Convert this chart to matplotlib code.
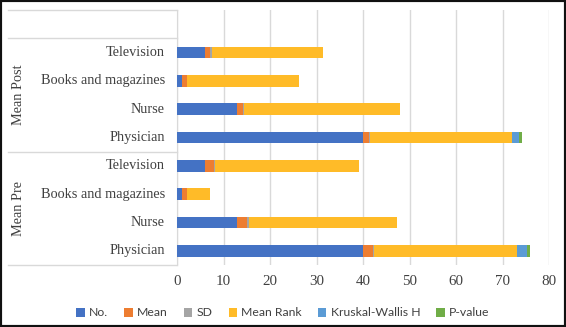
"""Stacked horizontal bars: information sources, mean pre vs mean post."""
import matplotlib.pyplot as plt
from matplotlib.patches import Rectangle
import matplotlib.transforms as mtransforms

# rows bottom -> top (top row left empty)
groups = ["Mean Pre", "Mean Post"]
sources = ["Physician", "Nurse", "Books and magazines", "Television"]

series = ["No.", "Mean", "SD", "Mean Rank", "Kruskal-Wallis H", "P-value"]
colors = ["#4472C4", "#ED7D31", "#A5A5A5", "#FFBB28", "#5B9BD5", "#70AD47"]

# order: Pre Physician, Pre Nurse, Pre Books, Pre TV, Post Physician, Post Nurse, Post Books, Post TV
no_vals = [40, 13, 1, 6, 40, 13, 1, 6]
mean_vals = [2.05, 2.15, 1.1, 1.9, 1.25, 1.3, 1.15, 1.2]
sd_vals = [0.4, 0.35, 0.1, 0.3, 0.2, 0.2, 0.1, 0.25]
rank_vals = [30.75, 31.8, 5.0, 30.95, 30.55, 33.5, 23.95, 23.85]
kw_vals = [2.1, 0, 0, 0, 1.5, 0, 0, 0]
p_vals = [0.65, 0, 0, 0, 0.6, 0, 0, 0]

W, H = 566, 327
fig = plt.figure(figsize=(W / 100, H / 100), dpi=100)
ax = fig.add_axes([177 / W, 1 - 265 / H, 372 / W, 255 / H])

serif = "Liberation Serif"
txt = "#404040"
fs = 10.3

ypos = list(range(len(no_vals)))
left = [0.0] * len(no_vals)
for name, vals, c in zip(series, [no_vals, mean_vals, sd_vals, rank_vals, kw_vals, p_vals], colors):
    ax.barh(ypos, vals, left=left, height=0.4, color=c, label=name, zorder=3)
    left = [l + v for l, v in zip(left, vals)]

ax.set_xlim(0, 80)
ax.set_ylim(-0.5, 8.5)
ax.set_xticks(range(0, 81, 10))
ax.set_yticks([])
ax.grid(axis="x", color="#D9D9D9", lw=1, zorder=0)
for s in ["top", "right", "bottom"]:
    ax.spines[s].set_visible(False)
ax.spines["left"].set_color("#D9D9D9")
ax.tick_params(axis="x", length=0, pad=7, labelsize=fs + 0.5, labelcolor=txt)
for lab in ax.get_xticklabels():
    lab.set_family(serif)

# hierarchical category axis on the left
tr = mtransforms.blended_transform_factory(ax.transAxes, ax.transData)
x0 = (8 - 177) / 372
for yl in [8.5, 7.5, 3.5, -0.5]:
    ax.plot([x0, 0], [yl, yl], transform=tr, color="#D9D9D9", lw=1, clip_on=False)

labels = [s for g in groups for s in sources]
for y, lab in zip(ypos, labels):
    ax.text(-12 / 372, y, lab, transform=tr, ha="right", va="center",
            family=serif, fontsize=fs, color=txt)
for gi, g in enumerate(groups):
    ax.text((18 - 177) / 372, gi * 4 + 1.5, g, transform=tr, rotation=90,
            ha="center", va="center", family=serif, fontsize=fs, color=txt)

leg = fig.legend(loc="center", bbox_to_anchor=(283 / W, 1 - 313 / H), ncol=6,
                 frameon=False, handlelength=0.7, handleheight=0.7,
                 handletextpad=0.35, columnspacing=1.3, prop={"family": "Lato", "size": 8.8})
for t in leg.get_texts():
    t.set_color(txt)

fig.patches.append(Rectangle((0, 0), 1, 1, transform=fig.transFigure, fill=False,
                             edgecolor="#111111", lw=3, zorder=10))

fig.savefig("out.png", dpi=100)
